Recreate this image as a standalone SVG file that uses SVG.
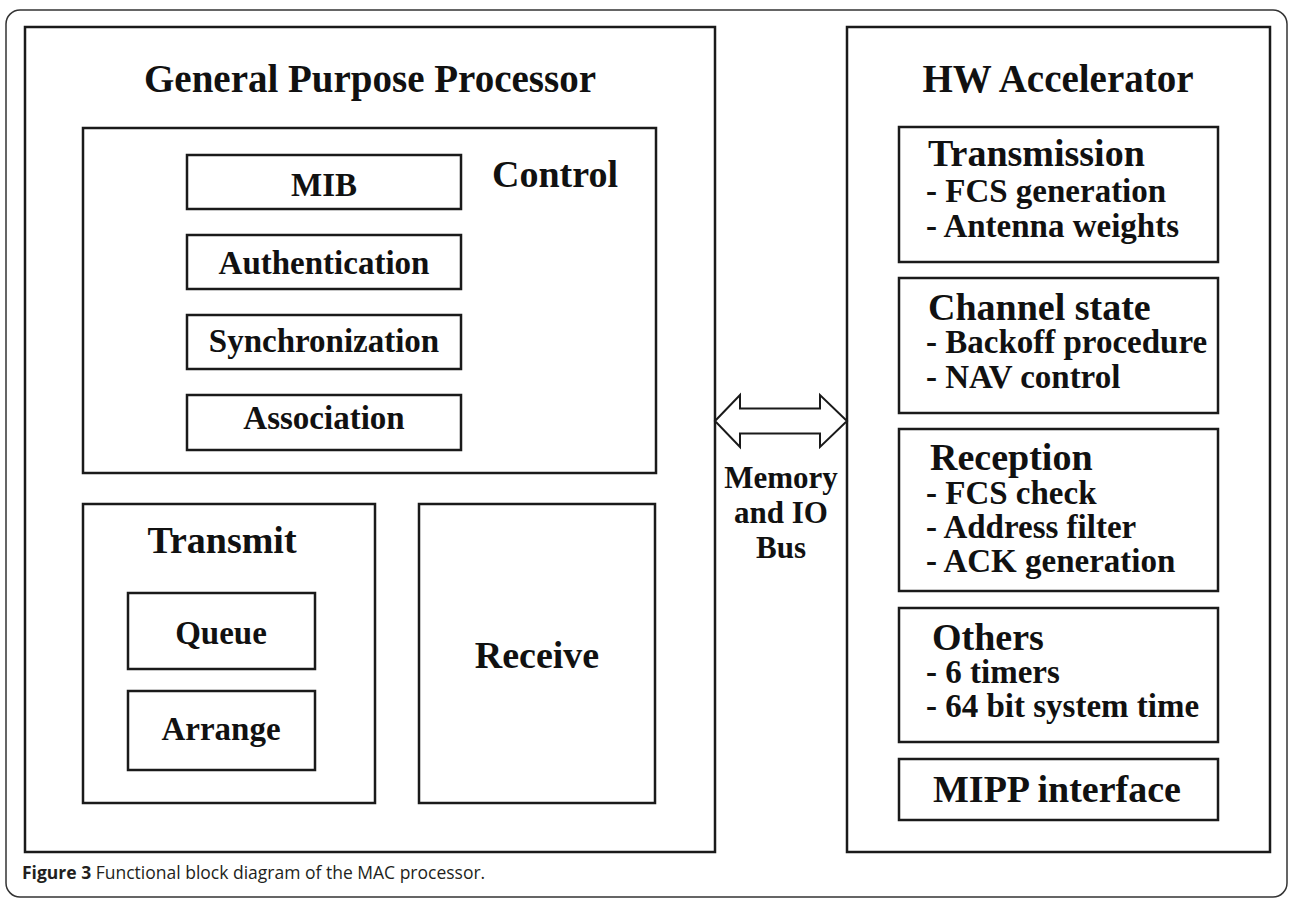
<svg xmlns="http://www.w3.org/2000/svg" width="1289" height="898" viewBox="0 0 1289 898">
<style>
.box{fill:#fff;stroke:#1a1a1a;stroke-width:2.5}
.t{font-family:"Liberation Serif","Times New Roman",serif;font-weight:bold;fill:#111}
.big{font-size:39px}
.h{font-size:38px}
.m{font-size:33px}
.bus{font-size:31px}
.c{text-anchor:middle}
.cap{font-family:"Open Sans","Liberation Sans",sans-serif;font-size:17.5px;fill:#231f20}
</style>
<rect x="6" y="10" width="1281" height="887" rx="14" fill="none" stroke="#333" stroke-width="1.5"/>
<g id="gpp">
<rect class="box" x="25" y="27" width="690" height="825"/>
<text class="t big c" x="370" y="92">General Purpose Processor</text>
</g>
<g id="control">
<rect class="box" x="83" y="128" width="573" height="345"/>
<text class="t h" x="492" y="187">Control</text>
</g>
<g id="mib"><rect class="box" x="187" y="155" width="274" height="54"/><text class="t m c" x="324" y="196">MIB</text></g>
<g id="auth"><rect class="box" x="187" y="235" width="274" height="54"/><text class="t m c" x="324" y="274">Authentication</text></g>
<g id="sync"><rect class="box" x="187" y="315" width="274" height="54"/><text class="t m c" x="324" y="352">Synchronization</text></g>
<g id="assoc"><rect class="box" x="187" y="395" width="274" height="55"/><text class="t m c" x="324" y="429">Association</text></g>
<g id="transmit">
<rect class="box" x="83" y="504" width="292" height="299"/>
<text class="t h c" x="222" y="553">Transmit</text>
</g>
<g id="queue"><rect class="box" x="128" y="593" width="187" height="76"/><text class="t m c" x="221" y="644">Queue</text></g>
<g id="arrange"><rect class="box" x="128" y="691" width="187" height="79"/><text class="t m c" x="221" y="740">Arrange</text></g>
<g id="receive">
<rect class="box" x="419" y="504" width="236" height="299"/>
<text class="t h c" x="537" y="668">Receive</text>
</g>
<g id="hw">
<rect class="box" x="847" y="27" width="423" height="825"/>
<text class="t big c" x="1058" y="92">HW Accelerator</text>
</g>
<g id="transmission">
<rect class="box" x="899" y="127" width="319" height="135"/>
<text class="t h" x="928" y="166">Transmission</text>
<text class="t m" x="926" y="202">- FCS generation</text>
<text class="t m" x="926" y="237">- Antenna weights</text>
</g>
<g id="channel">
<rect class="box" x="899" y="278" width="319" height="135"/>
<text class="t h" x="928" y="320">Channel state</text>
<text class="t m" x="926" y="353">- Backoff procedure</text>
<text class="t m" x="926" y="388">- NAV control</text>
</g>
<g id="reception">
<rect class="box" x="899" y="429" width="319" height="162"/>
<text class="t h" x="930" y="470">Reception</text>
<text class="t m" x="926" y="504">- FCS check</text>
<text class="t m" x="926" y="538">- Address filter</text>
<text class="t m" x="926" y="572">- ACK generation</text>
</g>
<g id="others">
<rect class="box" x="899" y="608" width="319" height="134"/>
<text class="t h" x="932" y="650">Others</text>
<text class="t m" x="926" y="683">- 6 timers</text>
<text class="t m" x="926" y="717">- 64 bit system time</text>
</g>
<g id="mipp">
<rect class="box" x="899" y="759" width="319" height="61"/>
<text class="t h" x="933" y="802">MIPP interface</text>
</g>
<g id="connectors">
<polygon points="715,421 740,395 740,408.5 820,408.5 820,395 847,421 820,447 820,433.5 740,433.5 740,447" fill="#fff" stroke="#1a1a1a" stroke-width="2"/>
<text class="t bus c" x="781" y="488">Memory</text>
<text class="t bus c" x="781" y="523">and IO</text>
<text class="t bus c" x="781" y="558">Bus</text>
</g>
<text class="cap" x="22" y="879"><tspan font-weight="bold">Figure 3</tspan> Functional block diagram of the MAC processor.</text>
</svg>
